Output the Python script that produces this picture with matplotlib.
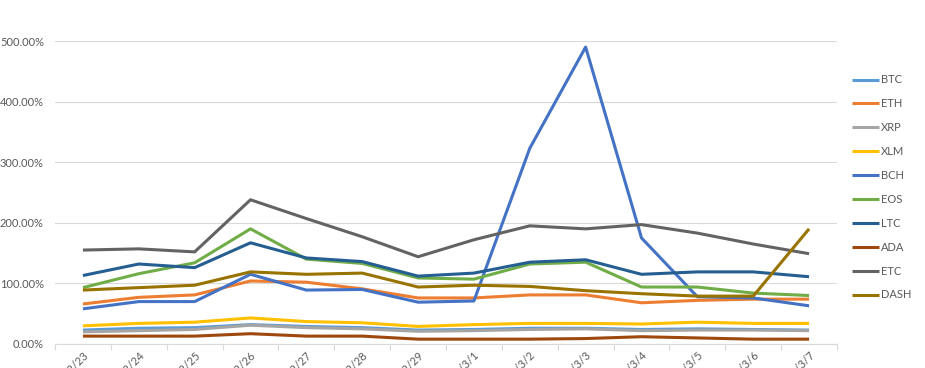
import matplotlib
matplotlib.use("Agg")
import matplotlib.pyplot as plt
from matplotlib.ticker import FuncFormatter, FixedLocator

dates = ["2020/2/23", "2020/2/24", "2020/2/25", "2020/2/26", "2020/2/27", "2020/2/28", "2020/2/29",
         "2020/3/1", "2020/3/2", "2020/3/3", "2020/3/4", "2020/3/5", "2020/3/6", "2020/3/7"]

BTC = [23, 26, 27, 32, 29, 27, 23, 24, 26, 26, 24, 25, 24, 23]
ETH = [66, 77, 81, 104, 102, 91, 76, 76, 81, 81, 68, 72, 74, 74]
XRP = [20, 22, 24, 31, 27, 25, 21, 22, 24, 25, 22, 23, 23, 22]
XLM = [30, 34, 36, 43, 37, 35, 29, 32, 34, 34, 33, 36, 34, 34]
BCH = [58, 70, 70, 115, 89, 90, 69, 71, 323, 490, 175, 78, 76, 63]
EOS = [93, 116, 134, 190, 140, 133, 109, 107, 132, 135, 94, 94, 84, 80]
LTC = [113, 132, 126, 167, 142, 136, 112, 117, 135, 139, 115, 119, 119, 111]
ADA = [13, 13, 13, 17, 13, 13, 8, 8, 8, 9, 12, 10, 8, 8]
ETC = [155, 157, 152, 238, 207, 177, 144, 172, 195, 190, 197, 183, 165, 149]
DASH = [89, 93, 97, 119, 115, 117, 94, 97, 95, 88, 83, 79, 79, 190]

series_names = ["BTC", "ETH", "XRP", "XLM", "BCH", "EOS", "LTC", "ADA", "ETC", "DASH"]
series_values = [BTC, ETH, XRP, XLM, BCH, EOS, LTC, ADA, ETC, DASH]
colors = ["#5B9BD5", "#ED7D31", "#A5A5A5", "#FFC000", "#4472C4",
          "#70AD47", "#255E91", "#9E480E", "#636363", "#997300"]

plt.rcParams['font.family'] = ['Lato', 'DejaVu Sans']

fig = plt.figure(figsize=(9.25, 3.68), dpi=100)
ax = fig.add_axes([55/925, 1-344/368, (837-55)/925, (344-41)/368])

x = list(range(len(dates)))
for name, vals, c in zip(series_names, series_values, colors):
    ax.plot(x, [v/100 for v in vals], color=c, lw=2.2, label=name,
            solid_joinstyle='round', solid_capstyle='butt')

ax.set_xlim(-0.5, len(dates)-0.5)
ax.set_ylim(0, 5)
ax.set_yticks([0, 1, 2, 3, 4, 5])
ax.yaxis.set_major_formatter(FuncFormatter(lambda v, p: f"{v*100:.2f}%"))
ax.grid(axis='y', color='#D9D9D9', lw=0.8)
ax.set_axisbelow(True)
for s in ['top', 'right', 'left']:
    ax.spines[s].set_visible(False)
ax.spines['bottom'].set_color('#D9D9D9')
ax.spines['bottom'].set_linewidth(0.8)

ax.tick_params(axis='y', length=0, pad=8, labelsize=8, labelcolor='#595959')
ax.xaxis.set_major_locator(FixedLocator(x))
ax.set_xticklabels(dates, rotation=45, ha='right', va='top', rotation_mode='anchor')
ax.xaxis.set_minor_locator(FixedLocator([i - 0.5 for i in range(len(dates)+1)]))
ax.tick_params(axis='x', which='major', length=0, pad=4, labelsize=8, labelcolor='#595959')
ax.tick_params(axis='x', which='minor', length=4, color='#D9D9D9', width=0.8)

fig.legend(loc='upper left', bbox_to_anchor=(848/925, 1-70/368), frameon=False,
           fontsize=8, labelcolor='#595959', handlelength=2.4, handletextpad=0.15,
           labelspacing=1.16, borderaxespad=0)

fig.savefig("out.png", dpi=100)
